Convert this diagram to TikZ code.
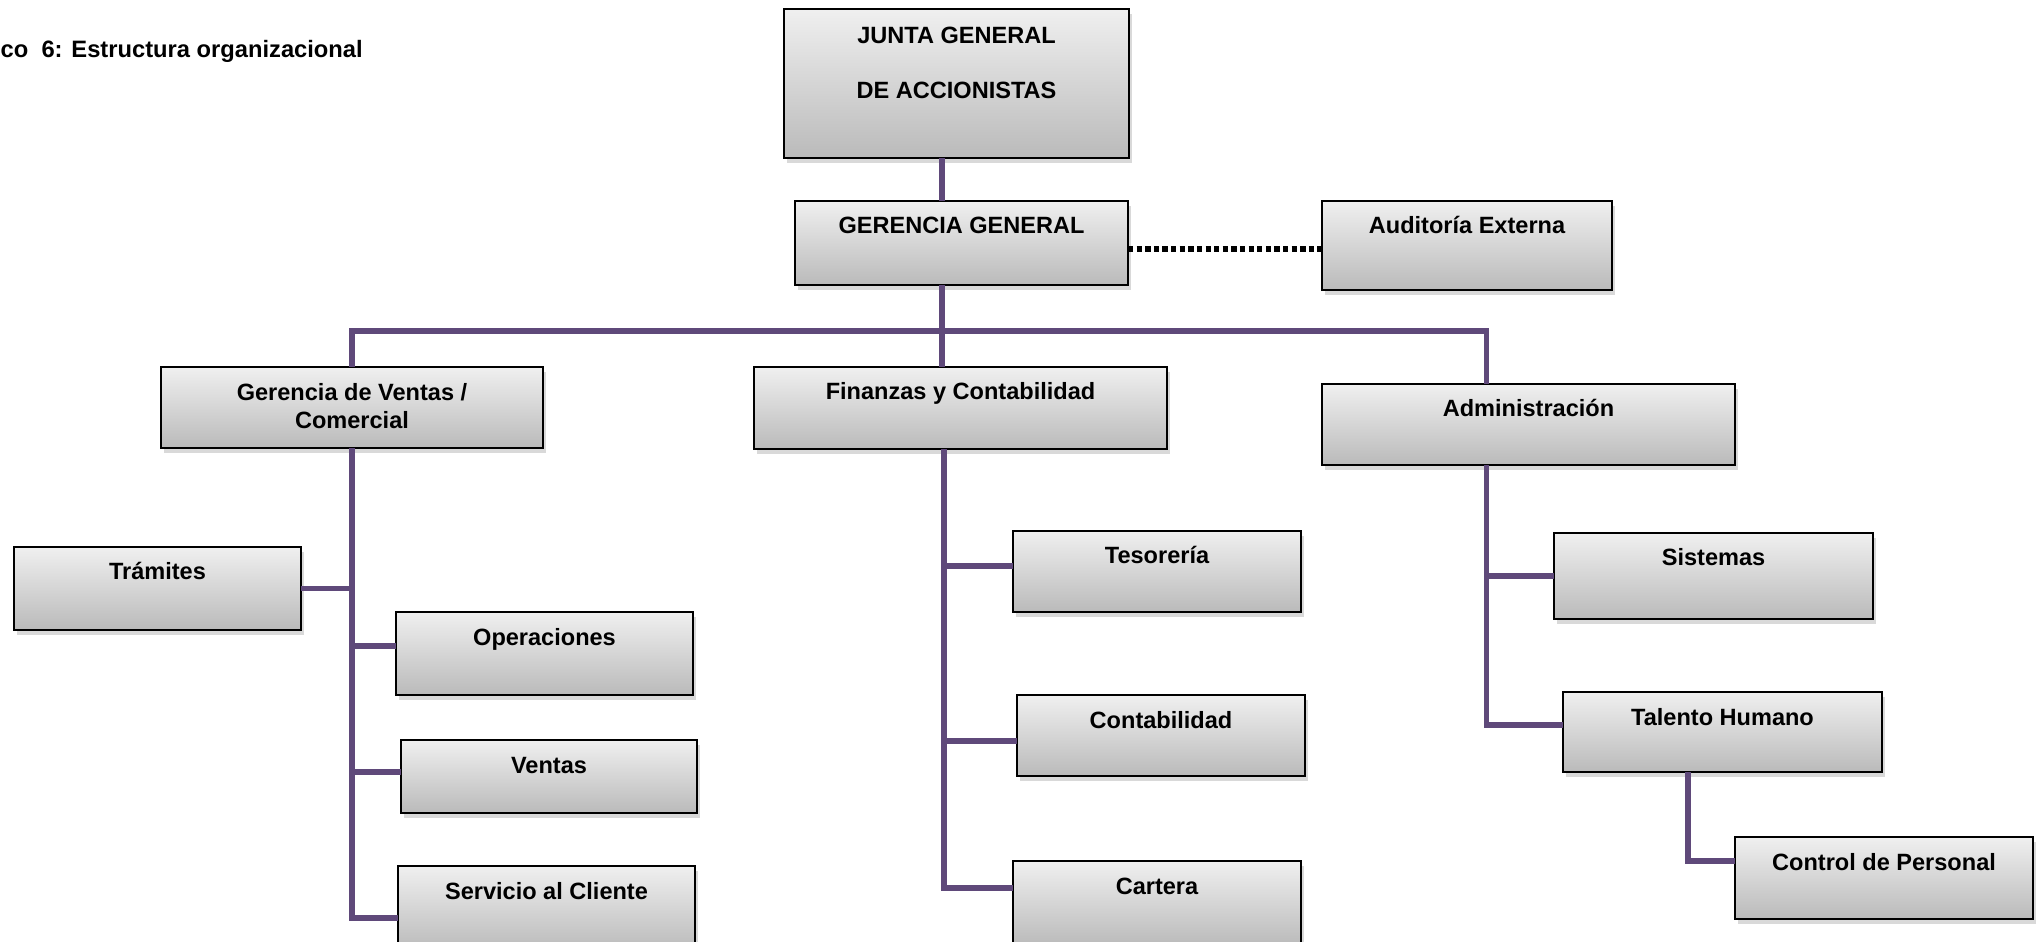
\documentclass[tikz,border=0pt]{standalone}
\usepackage{fontspec}
\setmainfont{Liberation Sans}
\usetikzlibrary{shadows}
\definecolor{linkpurple}{HTML}{5F497A}
\tikzset{
  unit/.style={draw=black, line width=0.7pt, top color=black!6, bottom color=black!27,
    drop shadow={shadow xshift=0.25mm, shadow yshift=-0.5mm, opacity=0.3},
    anchor=north west, inner xsep=2pt, inner ysep=0pt, outer sep=0pt, align=center,
    font=\bfseries\fontsize{6.7}{8.2}\selectfont, text height=0.33cm},
  link/.style={draw=linkpurple, line width=1.45pt},
  dotlink/.style={draw=black, line width=1.7pt, dash pattern=on 1.5pt off 0.95pt},
}
\begin{document}
\begin{tikzpicture}
\useasboundingbox (0,0) rectangle (20.420,9.410);
\node[anchor=base west, inner sep=0pt, font=\bfseries\fontsize{6.75}{8.2}\selectfont] (title) at (0.000,8.830) {co\ \ 6: Estructura organizacional};
\node[unit, minimum width=3.45cm, text height=0.895cm, text depth=0.595cm] (junta) at (7.840,9.320) {JUNTA GENERAL\\[7.4pt]DE ACCIONISTAS};
\node[unit, minimum width=3.33cm, text depth=0.51cm] (gg) at (7.950,7.400) {GERENCIA GENERAL};
\node[unit, minimum width=2.90cm, text depth=0.56cm] (aud) at (13.220,7.400) {Auditoría Externa};
\node[unit, minimum width=3.82cm, text height=0.62cm, text depth=0.19cm] (gv) at (1.610,5.740) {Gerencia de Ventas /\\Comercial};
\node[unit, minimum width=4.13cm, text depth=0.49cm] (fin) at (7.540,5.740) {Finanzas y Contabilidad};
\node[unit, minimum width=4.13cm, text depth=0.48cm] (adm) at (13.220,5.570) {Administración};
\node[unit, minimum width=2.87cm, text depth=0.50cm] (tram) at (0.140,3.940) {Trámites};
\node[unit, minimum width=2.97cm, text depth=0.50cm] (oper) at (3.960,3.290) {Operaciones};
\node[unit, minimum width=2.96cm, text depth=0.40cm] (ven) at (4.010,2.010) {Ventas};
\node[unit, minimum width=2.97cm, text depth=0.52cm] (serv) at (3.980,0.750) {Servicio al Cliente};
\node[unit, minimum width=2.88cm, text depth=0.48cm] (tes) at (10.130,4.100) {Tesorería};
\node[unit, minimum width=2.88cm, text depth=0.48cm] (cont) at (10.170,2.460) {Contabilidad};
\node[unit, minimum width=2.88cm, text depth=0.52cm] (cart) at (10.130,0.800) {Cartera};
\node[unit, minimum width=3.19cm, text depth=0.53cm] (sist) at (15.540,4.080) {Sistemas};
\node[unit, minimum width=3.19cm, text depth=0.47cm] (tal) at (15.630,2.490) {Talento Humano};
\node[unit, minimum width=2.98cm, text depth=0.49cm] (ctrl) at (17.350,1.040) {Control de Personal};
\coordinate (bus) at (9.420,6.100);
\coordinate (ftrunk) at ([xshift=-1.65mm]fin.south);
\coordinate (atrunk) at ([xshift=-4.2mm]adm.south);
\draw[link] (junta.south -| bus) -- (gg.north -| bus);
\draw[link] (gg.south -| bus) -- (bus);
\draw[link] (gv.north) |- (bus) -| ([xshift=-4.2mm]adm.north);
\draw[link] (bus) -- (bus |- fin.north);
\draw[dotlink] ([yshift=-0.6mm]gg.east) -- ([yshift=-0.6mm]gg.east -| aud.west);
\draw[link] (gv.south) |- ([yshift=-0.95mm]serv.west);
\draw[link] (tram.east) -- (tram.east -| gv.south);
\draw[link] ([yshift=0.75mm]oper.west) -- ([yshift=0.75mm]oper.west -| gv.south);
\draw[link] ([yshift=0.45mm]ven.west) -- ([yshift=0.45mm]ven.west -| gv.south);
\draw[link] (ftrunk) |- ([yshift=1.55mm]cart.west);
\draw[link] ([yshift=0.55mm]tes.west) -- ([yshift=0.55mm]tes.west -| ftrunk);
\draw[link] ([yshift=-0.55mm]cont.west) -- ([yshift=-0.55mm]cont.west -| ftrunk);
\draw[link] (atrunk) |- ([yshift=0.7mm]tal.west);
\draw[link] (sist.west) -- (sist.west -| atrunk);
\draw[link] ([xshift=-3.45mm]tal.south) |- ([yshift=1.7mm]ctrl.west);
\end{tikzpicture}
\end{document}
